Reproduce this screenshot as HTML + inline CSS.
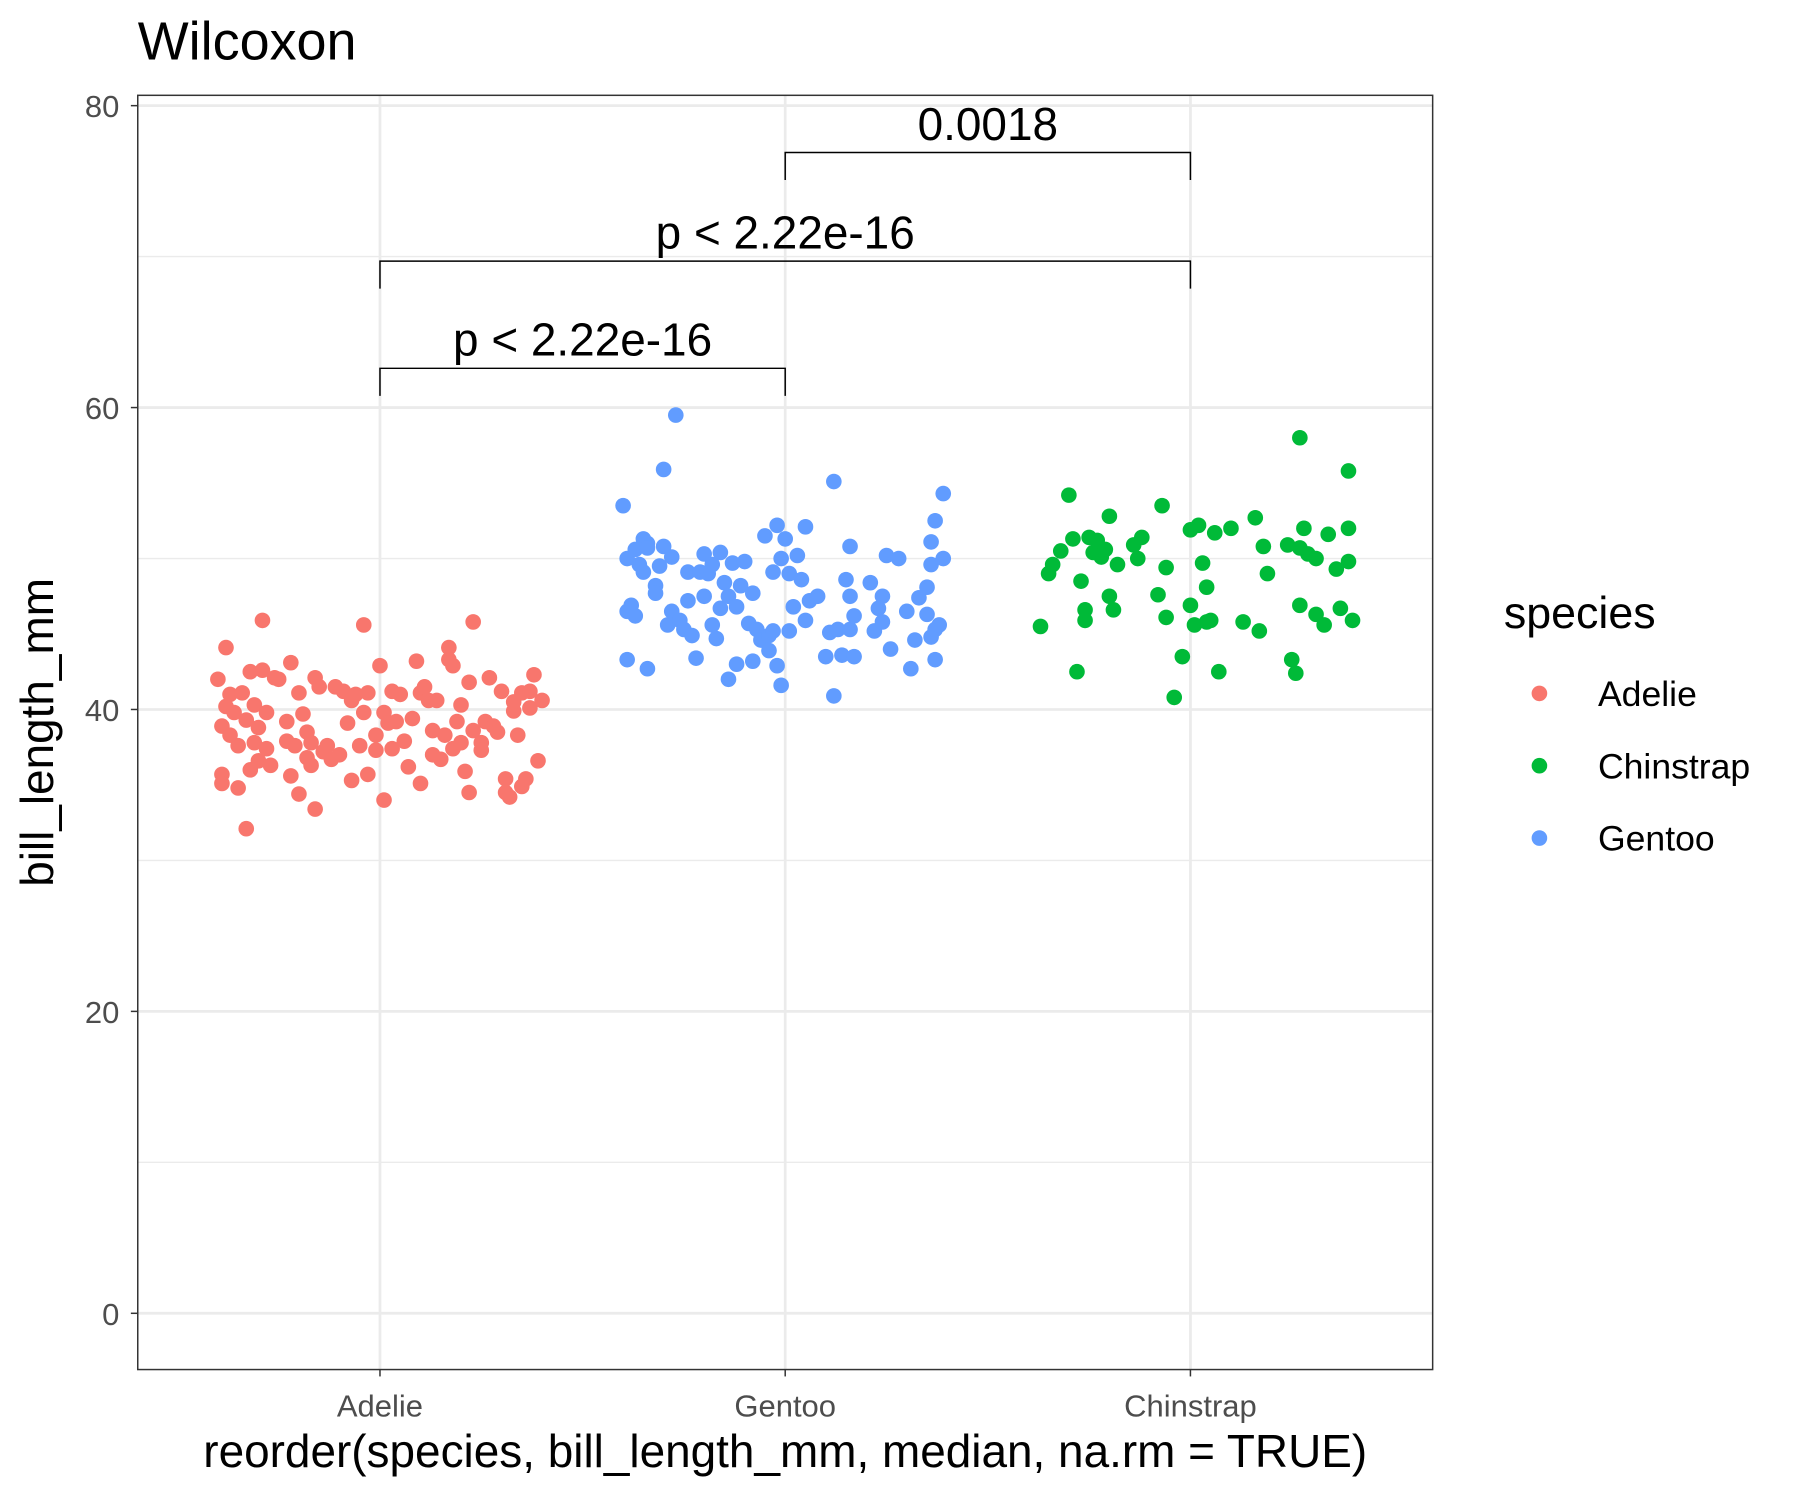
<!DOCTYPE html>
<html><head><meta charset="utf-8"><style>
html,body{margin:0;padding:0;background:#fff;}
svg{display:block;font-family:"Liberation Sans",Arial,sans-serif;}
</style></head><body>
<svg id="chart" width="1800" height="1500" viewBox="0 0 1568 1306.6" xmlns="http://www.w3.org/2000/svg">
<rect width="1568" height="1307" fill="#fff"/>
<g id="grid"></g>
<g id="points"></g>
<g id="brackets"></g>
<rect x="120" y="83" width="1128" height="1110" fill="none" stroke="#333" stroke-width="1.3"/>
<g id="axes"></g>
<text x="120" y="52" font-size="47" fill="#000">Wilcoxon</text>
<text x="684" y="1278" font-size="40" text-anchor="middle" fill="#000">reorder(species, bill_length_mm, median, na.rm = TRUE)</text>
<text transform="translate(46,638) rotate(-90)" font-size="40" text-anchor="middle" fill="#000">bill_length_mm</text>
<g id="legend"></g>
</svg>
<script>
const categories = ["Adelie","Gentoo","Chinstrap"];
const yTicks = [0,20,40,60,80];
const yMinor = [10,30,50,70];
const colors = {Adelie:"#F8766D",Chinstrap:"#00BA38",Gentoo:"#619CFF"};
const legendLabels = ["Adelie","Chinstrap","Gentoo"];

const adelieJitter = [-0.40,-0.39,-0.39,-0.39,-0.38,-0.38,-0.37,-0.37,-0.36,-0.35,-0.35,-0.34,-0.33,-0.33,-0.32,-0.32,-0.31,-0.31,-0.30,-0.30,-0.29,-0.29,-0.28,-0.28,-0.27,-0.26,-0.25,-0.23,-0.23,-0.22,-0.22,-0.21,-0.20,-0.20,-0.19,-0.18,-0.18,-0.17,-0.17,-0.16,-0.16,-0.15,-0.14,-0.13,-0.12,-0.11,-0.10,-0.09,-0.08,-0.07,-0.07,-0.06,-0.05,-0.04,-0.04,-0.03,-0.03,-0.01,-0.01,0,0.01,0.01,0.02,0.03,0.03,0.04,0.05,0.06,0.07,0.08,0.09,0.10,0.10,0.11,0.12,0.13,0.13,0.14,0.15,0.16,0.17,0.17,0.18,0.18,0.19,0.20,0.20,0.21,0.22,0.22,0.23,0.23,0.25,0.25,0.26,0.27,0.28,0.29,0.30,0.31,0.31,0.32,0.33,0.33,0.34,0.35,0.35,0.36,0.37,0.37,0.38,0.39,0.40];
const adelieValues = [42.0,35.7,38.9,35.1,40.2,44.1,41.0,38.3,39.8,34.8,37.6,41.1,32.1,39.3,36.0,42.5,37.8,40.3,38.8,36.6,42.6,45.9,39.8,37.4,36.3,42.1,42.0,39.2,37.9,43.1,35.6,37.6,41.1,34.4,39.7,38.5,36.8,37.8,36.3,33.4,42.1,41.5,37.2,37.6,36.7,41.5,37.0,41.2,39.1,40.6,35.3,41.0,37.6,45.6,39.8,35.7,41.1,38.3,37.3,42.9,39.8,34.0,39.1,37.4,41.2,39.2,41.0,37.9,36.2,39.4,43.2,41.1,35.1,41.5,40.6,37.0,38.6,40.6,36.7,38.3,43.3,44.1,37.4,42.9,39.2,40.3,37.8,35.9,34.5,41.8,45.8,38.6,37.8,37.3,39.2,42.1,38.9,38.5,41.2,35.4,34.5,34.2,39.9,40.5,38.3,34.9,41.1,35.4,40.1,41.2,42.3,36.6,40.6];

const gentooJitter = [-0.40,-0.39,-0.39,-0.39,-0.38,-0.37,-0.37,-0.36,-0.35,-0.35,-0.34,-0.34,-0.34,-0.32,-0.32,-0.31,-0.30,-0.30,-0.29,-0.28,-0.28,-0.27,-0.26,-0.25,-0.24,-0.24,-0.23,-0.22,-0.21,-0.20,-0.20,-0.19,-0.18,-0.18,-0.17,-0.16,-0.16,-0.15,-0.14,-0.14,-0.13,-0.12,-0.12,-0.11,-0.10,-0.09,-0.08,-0.08,-0.07,-0.06,-0.05,-0.04,-0.04,-0.03,-0.03,-0.02,-0.02,-0.01,-0.01,0,0.01,0.01,0.02,0.03,0.04,0.05,0.05,0.06,0.08,0.10,0.11,0.12,0.12,0.13,0.14,0.15,0.16,0.16,0.16,0.17,0.17,0.21,0.22,0.23,0.24,0.24,0.25,0.26,0.28,0.30,0.31,0.32,0.33,0.35,0.36,0.35,0.36,0.36,0.37,0.37,0.37,0.38,0.39,0.39];
const gentooValues = [53.5,50.0,46.5,43.3,46.9,50.6,46.2,49.6,49.1,51.3,42.7,51.0,50.7,48.2,47.7,49.5,55.9,50.8,45.6,50.1,46.5,59.5,45.9,45.3,49.1,47.2,44.9,43.4,49.1,50.3,47.5,49.0,49.6,45.6,44.7,50.4,46.7,48.4,42.0,47.5,49.7,43.0,46.8,48.2,49.8,45.7,43.2,47.7,45.3,44.6,51.5,44.9,43.9,49.1,45.2,42.9,52.2,41.6,50.0,51.3,49.0,45.2,46.8,50.2,48.6,45.9,52.1,47.2,47.5,43.5,45.1,55.1,40.9,45.3,43.6,48.6,47.5,45.3,50.8,46.2,43.5,48.4,45.2,46.7,47.5,45.8,50.2,44.0,50.0,46.5,42.7,44.6,47.4,48.1,51.1,46.3,49.6,44.8,52.5,45.3,43.3,45.6,54.3,50.0];

const chinstrapJitter = [-0.37,-0.35,-0.34,-0.32,-0.30,-0.29,-0.28,-0.27,-0.26,-0.26,-0.25,-0.24,-0.23,-0.22,-0.21,-0.20,-0.20,-0.19,-0.18,-0.14,-0.13,-0.12,-0.08,-0.07,-0.06,-0.06,-0.04,-0.02,0,0,0.01,0.02,0.03,0.04,0.04,0.05,0.06,0.07,0.10,0.13,0.16,0.17,0.18,0.19,0.24,0.25,0.26,0.27,0.27,0.27,0.28,0.29,0.31,0.31,0.33,0.34,0.36,0.37,0.39,0.39,0.39,0.40];
const chinstrapValues = [45.5,49.0,49.6,50.5,54.2,51.3,42.5,48.5,46.6,45.9,51.4,50.4,51.2,50.1,50.6,52.8,47.5,46.6,49.6,50.9,50.0,51.4,47.6,53.5,49.4,46.1,40.8,43.5,51.9,46.9,45.6,52.2,49.7,48.1,45.8,45.9,51.7,42.5,52.0,45.8,52.7,45.2,50.8,49.0,50.9,43.3,42.4,58.0,50.7,46.9,52.0,50.3,50.0,46.3,45.6,51.6,49.3,46.7,55.8,52.0,49.8,45.9];

const comparisons = [["Adelie","Gentoo"],["Adelie","Chinstrap"],["Gentoo","Chinstrap"]];
const bracketY = [62.6,69.7,76.9];
const bracketLabels = ["p < 2.22e-16","p < 2.22e-16","0.0018"];

const NS="http://www.w3.org/2000/svg";
const X0=331, XSTEP=353;
function xScale(cat, j){ return X0 + (categories.indexOf(cat) + (j||0)) * XSTEP; }
function yScale(v){ return 1144 - v * 13.15; }
function mk(tag, attrs, parent){ const e=document.createElementNS(NS,tag); for(const k in attrs) e.setAttribute(k,attrs[k]); parent.appendChild(e); return e; }

const grid=document.getElementById('grid');
yMinor.forEach(v=>{
  const l=mk('line',{x1:120,x2:1248,y1:yScale(v),y2:yScale(v),stroke:'#ebebeb','stroke-width':1.2},grid);
  
  
});
yTicks.forEach(v=>{
  const l=mk('line',{x1:120,x2:1248,y1:yScale(v),y2:yScale(v),stroke:'#ebebeb','stroke-width':2.4},grid);
  
  
});
categories.forEach(c=>{
  const l=mk('line',{x1:xScale(c),x2:xScale(c),y1:83,y2:1193,stroke:'#ebebeb','stroke-width':2.4},grid);
  
  
});

const pts=document.getElementById('points');
function drawSeries(cat, jit, vals){
  vals.forEach((v,i)=>{
    const c=mk('circle',{cx:xScale(cat,jit[i]),cy:yScale(v),r:6.8,fill:colors[cat]},pts);
    
    
  });
}
drawSeries('Adelie',adelieJitter,adelieValues);
drawSeries('Gentoo',gentooJitter,gentooValues);
drawSeries('Chinstrap',chinstrapJitter,chinstrapValues);

const br=document.getElementById('brackets');
comparisons.forEach((cmp,i)=>{
  const x1=xScale(cmp[0]), x2=xScale(cmp[1]), y=yScale(bracketY[i]);
  const p=mk('path',{d:`M${x1},${y+24}V${y}H${x2}V${y+24}`,fill:'none',stroke:'#000','stroke-width':1.3},br);
  
  
  const t=mk('text',{x:(x1+x2)/2,y:y-11,'font-size':40,'text-anchor':'middle',fill:'#000'},br);
  t.textContent=bracketLabels[i];
  
  
});

const ax=document.getElementById('axes');
yTicks.forEach(v=>{
  const l=mk('line',{x1:114,x2:120,y1:yScale(v),y2:yScale(v),stroke:'#333','stroke-width':1.3},ax);
  
  
  const t=mk('text',{x:104,y:yScale(v)+10,'font-size':27,'text-anchor':'end',fill:'#4d4d4d'},ax);
  t.textContent=v;
  
  
});
categories.forEach(c=>{
  const l=mk('line',{x1:xScale(c),x2:xScale(c),y1:1193,y2:1199,stroke:'#333','stroke-width':1.3},ax);
  
  
  const t=mk('text',{x:xScale(c),y:1234,'font-size':27,'text-anchor':'middle',fill:'#4d4d4d'},ax);
  t.textContent=c;
  
  
});

const lg=document.getElementById('legend');
const lt=mk('text',{x:1310,y:547,'font-size':39,fill:'#000'},lg);
lt.textContent='species';


legendLabels.forEach((s,i)=>{
  const y=604+i*63;
  const c=mk('circle',{cx:1341,cy:y,r:6.8,fill:colors[s]},lg);
  
  
  const t=mk('text',{x:1392,y:y+11,'font-size':31,fill:'#000'},lg);
  t.textContent=s;
  
  
});
</script>
</body></html>
